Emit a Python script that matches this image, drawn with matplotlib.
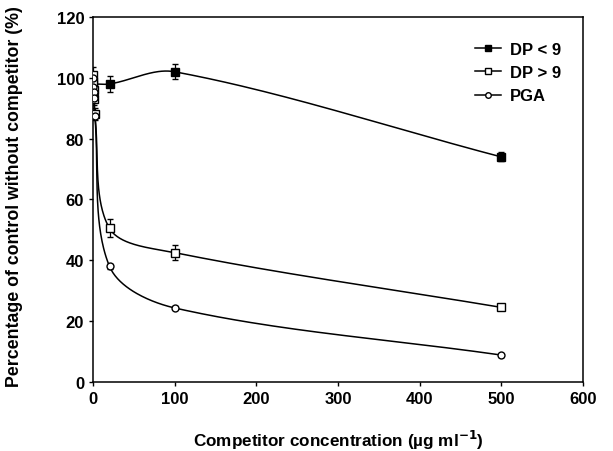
import numpy as np
import matplotlib.pyplot as plt

plt.rcParams['font.family'] = ['Liberation Sans', 'DejaVu Sans']

# data
x_dp_lt9 = [0, 20, 100, 500]
y_dp_lt9 = [98, 98, 102, 74]
e_dp_lt9 = [2, 2.5, 2.5, 1.5]

x_dp_gt9 = [0, 0.3, 0.6, 1.2, 2, 20, 100, 500]
y_dp_gt9 = [101, 98.5, 96, 93, 88, 50.5, 42.5, 24.5]
e_dp_gt9 = [2.5, 2, 2, 2, 2, 3, 2.5, 1]

x_pga = [0, 0.3, 0.6, 1.2, 2, 20, 100, 500]
y_pga = [100, 97, 95.5, 93.5, 87.5, 38, 24.3, 8.8]
e_pga = [0, 0, 0, 0, 0, 0.8, 0.5, 0.5]

W, H = 490.0, 365.0  # axes size in px, so the smoothing is done in screen units


def smooth(xs, ys, n=60):
    # chord-length weighted bezier smoothing
    p = np.column_stack([np.array(xs) / 600 * W, np.array(ys) / 120 * H])
    d = np.hypot(*np.diff(p, axis=0).T)
    m = np.zeros_like(p)
    m[0] = (p[1] - p[0]) / d[0]
    m[-1] = (p[-1] - p[-2]) / d[-1]
    for i in range(1, len(p) - 1):
        m[i] = (p[i + 1] - p[i - 1]) / (d[i - 1] + d[i])
    pts = []
    t = np.linspace(0, 1, n)[:, None]
    for i in range(len(p) - 1):
        p1, p2 = p[i], p[i + 1]
        c1 = p1 + m[i] * d[i] / 3
        c2 = p2 - m[i + 1] * d[i] / 3
        seg = (1 - t) ** 3 * p1 + 3 * (1 - t) ** 2 * t * c1 + 3 * (1 - t) * t ** 2 * c2 + t ** 3 * p2
        pts.append(seg)
    pts = np.vstack(pts)
    return pts[:, 0] / W * 600, pts[:, 1] / H * 120


fig = plt.figure(figsize=(6.13, 4.52), dpi=100)
ax = fig.add_axes([0.152, 0.153, 0.799, 0.807])

for xs, ys, es, mk, fc, lab in [
    (x_dp_lt9, y_dp_lt9, e_dp_lt9, 's', 'black', 'DP < 9'),
    (x_dp_gt9, y_dp_gt9, e_dp_gt9, 's', 'white', 'DP > 9'),
    (x_pga, y_pga, e_pga, 'o', 'white', 'PGA'),
]:
    sx, sy = smooth(xs, ys)
    ax.plot(sx, sy, color='black', lw=1.1, zorder=2)
    ax.errorbar(xs, ys, yerr=es, fmt='none', ecolor='black', elinewidth=0.9, capsize=2.5, zorder=3)
    ax.plot(xs, ys, ls='none', marker=mk, ms=5.5 if mk == 's' else 5, mfc=fc, mec='black', mew=1, zorder=4)
    ax.plot([], [], color='black', lw=1.1, marker=mk, ms=4, mfc=fc, mec='black', label=lab)

ax.set_xlim(0, 600)
ax.set_ylim(0, 120)
ax.set_xticks(range(0, 601, 100))
ax.set_yticks(range(0, 121, 20))
ax.tick_params(direction='out', length=3, labelsize=12, width=1)
for t in ax.get_xticklabels() + ax.get_yticklabels():
    t.set_fontweight('bold')
for s in ax.spines.values():
    s.set_linewidth(1.1)

fig.text(0.152 + 0.799 / 2, 0.011, 'Competitor concentration (µg ml$^{\\mathbf{-1}}$)',
         ha='center', va='baseline', fontsize=12.3, fontweight='bold')
ax.set_ylabel('Percentage of control without competitor (%)', fontsize=12.8, fontweight='bold')
ax.yaxis.set_label_coords(-0.143, 0.51)

leg = ax.legend(loc='upper left', bbox_to_anchor=(0.762, 0.955), frameon=False, borderpad=0,
                handlelength=1.6, handletextpad=0.5, labelspacing=0.5,
                prop={'weight': 'bold', 'size': 12})

fig.savefig('out.png', dpi=100)
